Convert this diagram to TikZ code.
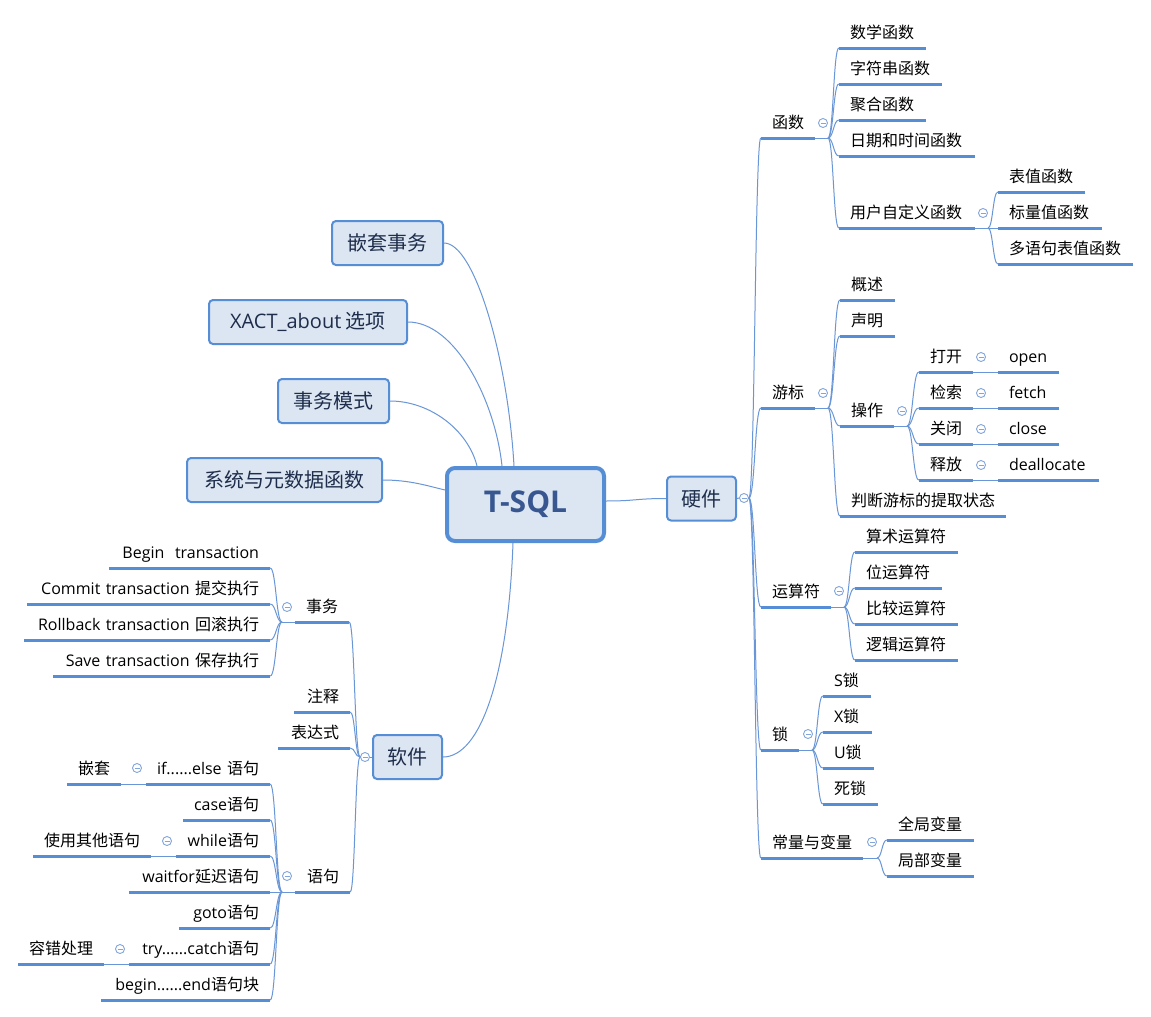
\documentclass[tikz,border=0pt]{standalone}
\usepackage{fontspec}
\setmainfont{Noto Sans CJK SC}
\newfontfamily\latfont{Open Sans}
\usetikzlibrary{calc}
\definecolor{bdr}{RGB}{85,142,213}
\definecolor{bfill}{RGB}{220,230,242}
\definecolor{btext}{RGB}{30,45,75}
\definecolor{tsqlc}{RGB}{56,87,145}
\definecolor{lc}{RGB}{105,150,215}
\definecolor{ulc}{RGB}{85,142,213}
\definecolor{btnc}{RGB}{130,165,220}
\newcommand\Lt[1]{{\latfont #1}}
\tikzset{
 lbl/.style={inner xsep=11pt, inner ysep=0pt, minimum height=30pt, text height=14pt, text depth=3pt, font=\fontsize{16}{19}\selectfont, text=black},
 ul/.style={draw=ulc, line width=3pt},
 conn/.style={draw=lc, line width=1pt},
 box/.style={draw=bdr, fill=bfill, line width=2pt, rounded corners=4pt, inner sep=0pt, text=btext, font=\fontsize{20}{24}\selectfont},
 colbtn/.style={circle, draw=btnc, fill=white, line width=0.9pt, minimum size=9pt, inner sep=0pt,
   path picture={\draw[btnc, line width=0.9pt] ([xshift=2pt]path picture bounding box.west) -- ([xshift=-2pt]path picture bounding box.east);}},
}
% right-side label: name, x1, x2, y(underline), text
\newcommand\RL[5]{\pgfmathsetmacro\tw{#3-#2-22}\pgfmathsetmacro\cx{(#2+#3)/2}%
 \node[lbl, text width=\tw pt, align=left, anchor=south] (#1) at (\cx,#4) {#5};
 \draw[ul] (#1.south west) -- (#1.south east);}
% left-side label
\newcommand\LL[5]{\pgfmathsetmacro\tw{#3-#2-22}\pgfmathsetmacro\cx{(#2+#3)/2}%
 \node[lbl, text width=\tw pt, align=right, anchor=south] (#1) at (\cx,#4) {#5};
 \draw[ul] (#1.south west) -- (#1.south east);}
\newcommand\sconn[2]{\draw[conn] (#1) .. controls ($(#1)!0.5!(#1-|#2)$) and ($(#2)!0.5!(#1|-#2)$) .. (#2);}
\begin{document}
\begin{tikzpicture}[x=1pt,y=-1pt]
\fill[white] (0,0) rectangle (1151,1017);
\useasboundingbox (0,0) rectangle (1151,1017);

% central topic
\node[box, line width=4pt, rounded corners=8pt, minimum width=157pt, minimum height=73pt, text=tsqlc,
  font=\latfont\bfseries\fontsize{30}{36}\selectfont] (ts) at (525.5,504.5) {T-SQL};

% floating main topics
\node[box, minimum width=111pt, minimum height=44pt] (b1) at (387.5,243) {嵌套事务};
\node[box, minimum width=198pt, minimum height=44pt] (b2) at (308,322) {\Lt{XACT\_about} 选项};
\node[box, minimum width=111pt, minimum height=44pt] (b3) at (333.5,401) {事务模式};
\node[box, minimum width=195pt, minimum height=44pt] (b4) at (284.5,480) {系统与元数据函数};
\node[box, minimum width=69pt, minimum height=44pt] (hw) at (701.5,498.5) {硬件};
\node[box, minimum width=69pt, minimum height=44pt] (sw) at (407.5,757) {软件};

\coordinate (ta) at ([xshift=-11.5pt]ts.north);
\coordinate (tb) at ([xshift=-23.5pt]ts.north);
\coordinate (tc) at ([xshift=-48.5pt]ts.north);
\coordinate (td) at ([yshift=14.5pt]ts.west);
\coordinate (te) at ([xshift=-12.5pt]ts.south);
\coordinate (tf) at ([yshift=3.5pt]ts.east);

\draw[conn] (b1.east) .. controls +(31,0) and +(-6,-106) .. (ta);
\draw[conn] (b2.east) .. controls +(47,0) and +(-7,-66) .. (tb);
\draw[conn] (b3.east) .. controls +(40,0) and +(-9,-36) .. (tc);
\draw[conn] (b4.east) .. controls +(27,0) and +(-17,-4) .. (td);
\draw[conn] (te) .. controls +(-5,135) and +(37,0) .. (sw.east);
\draw[conn] (tf) .. controls +(30,0) and +(-30,0) .. (hw.west);

% ---------------- right side: 硬件
\node[colbtn] (bhw) at (744,498) {};
\draw[conn] (hw.east) -- (bhw.west);
\RL{fn}{761}{815}{138}{函数}
\RL{cur}{761}{815}{408}{游标}
\RL{op}{761}{831}{607}{运算符}
\RL{lk}{761}{799}{750}{锁}
\RL{cv}{761}{863}{858}{常量与变量}
\foreach \c in {fn,cur,op,lk,cv} {\sconn{bhw.east}{\c.south west}}

% 函数
\node[colbtn] (bfn) at (823,123) {};
\coordinate (jfn) at (828,138);
\draw[conn] (fn.south east) -- (jfn);
\RL{f1}{839}{926}{48}{数学函数}
\RL{f2}{839}{942}{84}{字符串函数}
\RL{f3}{839}{926}{120}{聚合函数}
\RL{f4}{839}{975}{156}{日期和时间函数}
\RL{f5}{839}{975}{228}{用户自定义函数}
\foreach \c in {f1,f2,f3,f4,f5} {\sconn{jfn}{\c.south west}}
\node[colbtn] (bf5) at (983,213) {};
\coordinate (jf5) at (988,228);
\draw[conn] (f5.south east) -- (jf5);
\RL{f51}{998}{1085}{192}{表值函数}
\RL{f52}{998}{1102}{228}{标量值函数}
\RL{f53}{998}{1133}{264}{多语句表值函数}
\foreach \c in {f51,f52,f53} {\sconn{jf5}{\c.south west}}

% 游标
\node[colbtn] (bcur) at (823,393) {};
\coordinate (jcur) at (828,408);
\draw[conn] (cur.south east) -- (jcur);
\RL{c1}{840}{895}{300}{概述}
\RL{c2}{840}{895}{336}{声明}
\RL{c3}{840}{894}{426}{操作}
\RL{c4}{840}{1006}{516}{判断游标的提取状态}
\foreach \c in {c1,c2,c3,c4} {\sconn{jcur}{\c.south west}}
\node[colbtn] (bc3) at (902,411) {};
\coordinate (jc3) at (907,426);
\draw[conn] (c3.south east) -- (jc3);
\RL{o1}{919}{973}{372}{打开}
\RL{o2}{919}{973}{408}{检索}
\RL{o3}{919}{973}{444}{关闭}
\RL{o4}{919}{973}{480}{释放}
\foreach \c in {o1,o2,o3,o4} {\sconn{jc3}{\c.south west}}
\RL{o1b}{998}{1059}{372}{\Lt{open}}
\RL{o2b}{998}{1059}{408}{\Lt{fetch}}
\RL{o3b}{998}{1059}{444}{\Lt{close}}
\RL{o4b}{998}{1099}{480}{\Lt{deallocate}}
\node[colbtn] (bo1) at (981,357) {};
\node[colbtn] (bo2) at (981,393) {};
\node[colbtn] (bo3) at (981,429) {};
\node[colbtn] (bo4) at (981,465) {};
\foreach \c in {o1,o2,o3,o4} {\draw[conn] (\c.south east) -- (\c b.south west);}

% 运算符
\node[colbtn] (bop) at (839,591) {};
\coordinate (jop) at (844,607);
\draw[conn] (op.south east) -- (jop);
\RL{p1}{855}{958}{552}{算术运算符}
\RL{p2}{855}{942}{588}{位运算符}
\RL{p3}{855}{958}{624}{比较运算符}
\RL{p4}{855}{958}{660}{逻辑运算符}
\foreach \c in {p1,p2,p3,p4} {\sconn{jop}{\c.south west}}

% 锁
\node[colbtn] (blk) at (808,734) {};
\coordinate (jlk) at (812,750);
\draw[conn] (lk.south east) -- (jlk);
\RL{l1}{823}{871}{696}{\Lt{S}锁}
\RL{l2}{823}{872}{732}{\Lt{X}锁}
\RL{l3}{823}{874}{768}{\Lt{U}锁}
\RL{l4}{823}{878}{804}{死锁}
\foreach \c in {l1,l2,l3,l4} {\sconn{jlk}{\c.south west}}

% 常量与变量
\node[colbtn] (bcv) at (872,842) {};
\coordinate (jcv) at (877,858);
\draw[conn] (cv.south east) -- (jcv);
\RL{v1}{887}{974}{840}{全局变量}
\RL{v2}{887}{974}{876}{局部变量}
\foreach \c in {v1,v2} {\sconn{jcv}{\c.south west}}

% ---------------- left side: 软件
\node[colbtn] (bsw) at (365,757) {};
\draw[conn] (sw.west) -- (bsw.east);
\LL{t}{295}{349}{622}{事务}
\LL{z}{294}{350}{712}{注释}
\LL{e}{278}{350}{748}{表达式}
\LL{s}{295}{350}{892}{语句}
\foreach \c in {t,z,e,s} {\sconn{bsw.west}{\c.south east}}

% 事务
\node[colbtn] (bt) at (287,607) {};
\coordinate (jt) at (282,622);
\draw[conn] (t.south west) -- (jt);
\LL{t1}{109}{270}{568}{\Lt{Begin\ \ transaction}}
\LL{t2}{27}{270}{604}{\Lt{Commit transaction} 提交执行}
\LL{t3}{24}{270}{640}{\Lt{Rollback transaction} 回滚执行}
\LL{t4}{53}{270}{676}{\Lt{Save transaction} 保存执行}
\foreach \c in {t1,t2,t3,t4} {\sconn{jt}{\c.south east}}

% 语句
\node[colbtn] (bs) at (287,876) {};
\coordinate (js) at (282,892);
\draw[conn] (s.south west) -- (js);
\LL{s1}{146}{270}{784}{\Lt{if......else} 语句}
\LL{s2}{183}{270}{820}{\Lt{case}语句}
\LL{s3}{176}{270}{856}{\Lt{while}语句}
\LL{s4}{129}{270}{892}{\Lt{waitfor}延迟语句}
\LL{s5}{179}{270}{928}{\Lt{goto}语句}
\LL{s6}{129}{270}{964}{\Lt{try......catch}语句}
\LL{s7}{101}{270}{1000}{\Lt{begin......end}语句块}
\foreach \c in {s1,s2,s3,s4,s5,s6,s7} {\sconn{js}{\c.south east}}

\node[colbtn] (bs1) at (137,768) {};
\LL{s1a}{67}{121}{784}{嵌套}
\draw[conn] (s1.south west) -- (s1a.south east);
\node[colbtn] (bs3) at (167,841) {};
\LL{s3a}{33}{151}{856}{使用其他语句}
\draw[conn] (s3.south west) -- (s3a.south east);
\node[colbtn] (bs6) at (120,949) {};
\LL{s6a}{18}{104}{964}{容错处理}
\draw[conn] (s6.south west) -- (s6a.south east);
\end{tikzpicture}
\end{document}
